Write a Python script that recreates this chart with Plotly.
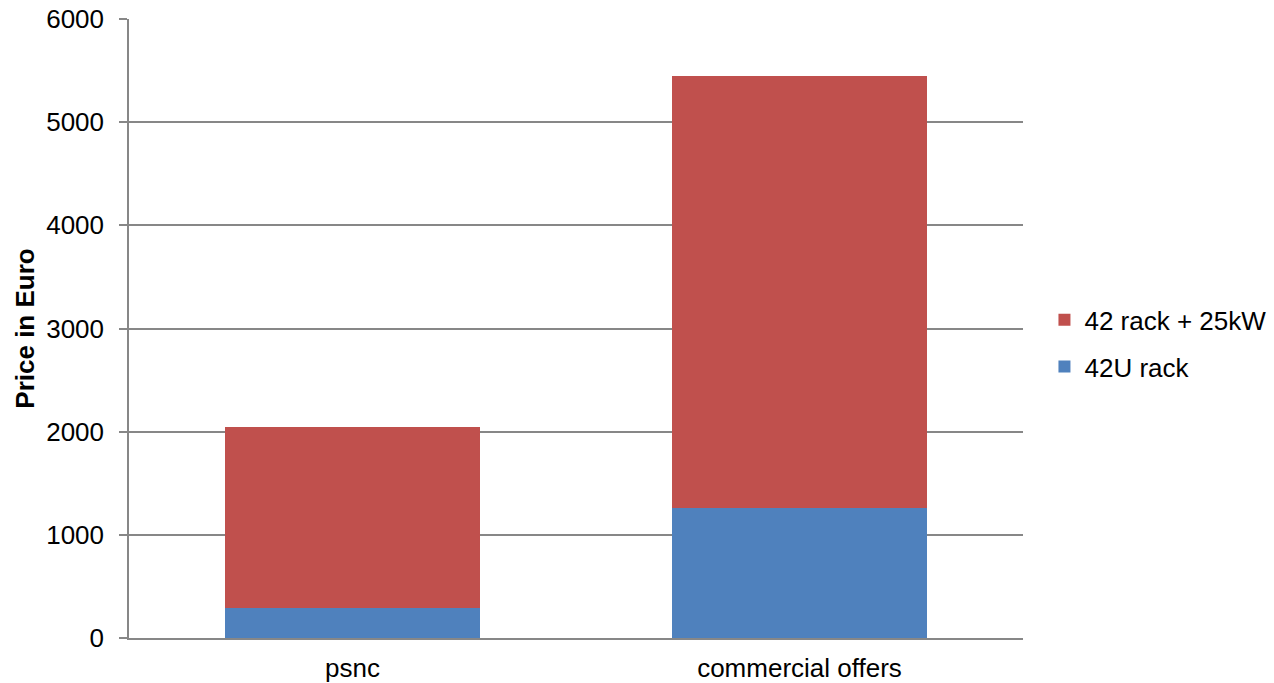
import plotly.graph_objects as go

categories = ["psnc", "commercial offers"]
rack_42u = [290, 1260]
rack_power = [1760, 4190]
series_names = ["42U rack", "42 rack + 25kW"]
y_ticks = [0, 1000, 2000, 3000, 4000, 5000, 6000]

FONT = "Liberation Sans, Arial, sans-serif"
GRID = "#878787"
FS = 26

fig = go.Figure()
fig.add_trace(go.Bar(x=categories, y=rack_42u, name=series_names[0], legendgroup="a", legendrank=2,
                     marker=dict(color="#4F81BD", line=dict(width=0))))
fig.add_trace(go.Bar(x=categories, y=rack_power, name=series_names[1], legendgroup="b", legendrank=1,
                     marker=dict(color="#C0504D", line=dict(width=0))))

fig.update_layout(
    barmode="stack",
    bargap=0.43,
    width=1274, height=683,
    margin=dict(l=129, r=251, t=19, b=45, autoexpand=False),
    paper_bgcolor="white", plot_bgcolor="white",
    font=dict(family=FONT, size=FS, color="black"),
    legend=dict(traceorder="grouped", x=1.024, y=0.476, yanchor="middle", xanchor="left",
                font=dict(size=FS), itemwidth=30, tracegroupgap=10),
    showlegend=True,
)
fig.update_yaxes(range=[0, 6000], tickvals=y_ticks, showgrid=True, gridcolor=GRID, gridwidth=1.5,
                 showline=True, linecolor=GRID, linewidth=1.5, ticks="outside", ticklen=8,
                 tickcolor=GRID, tickwidth=1.5, ticklabelstandoff=10, zeroline=False,
                 tickfont=dict(size=FS), automargin=False,
                 title=dict(text="<b>Price in Euro</b>", font=dict(size=FS), standoff=4))
fig.update_xaxes(showline=True, linecolor=GRID, linewidth=1.5, ticks="", ticklabelstandoff=6,
                 tickfont=dict(size=FS), automargin=False)

fig.write_html("out.html")
